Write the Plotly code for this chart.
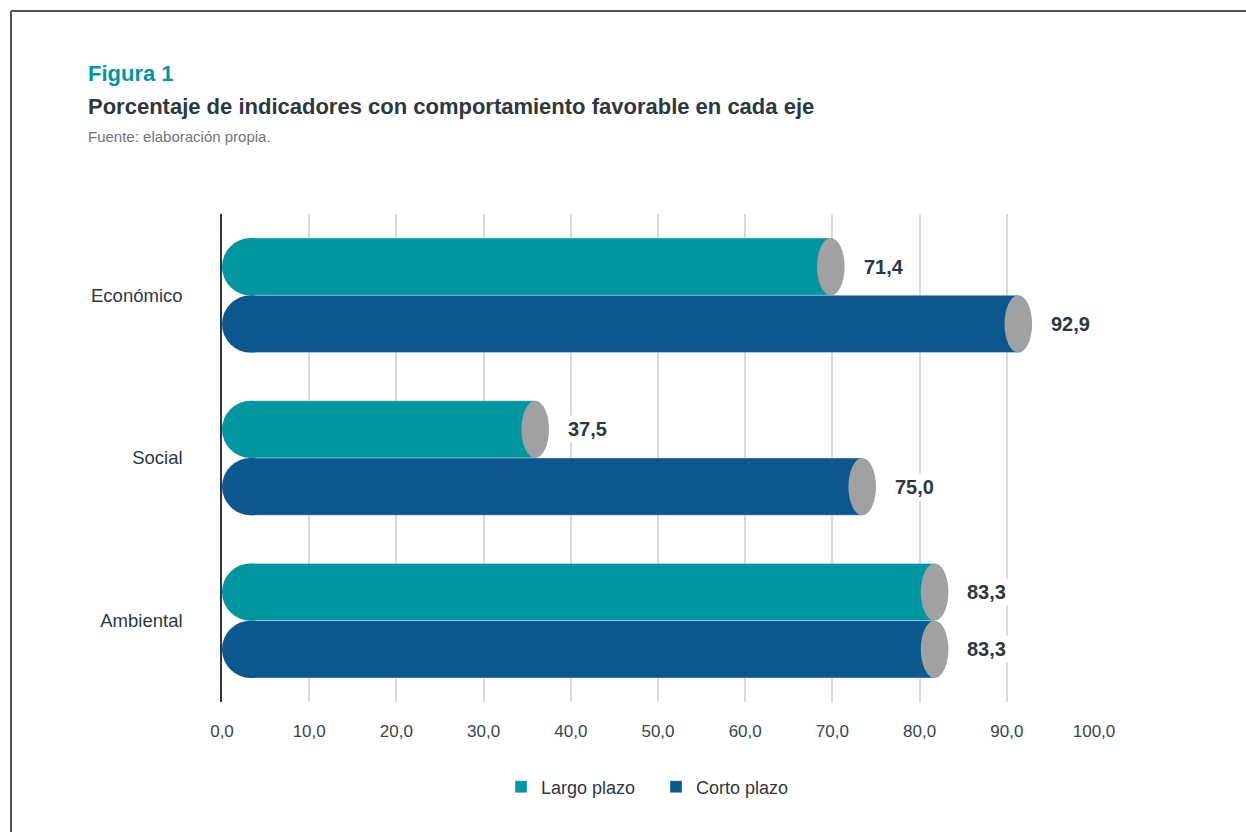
import plotly.graph_objects as go

categories = ["Económico", "Social", "Ambiental"]
largo_plazo = [71.4, 37.5, 83.3]
corto_plazo = [92.9, 75.0, 83.3]
series_names = ["Largo plazo", "Corto plazo"]
x_ticks = [0, 10, 20, 30, 40, 50, 60, 70, 80, 90, 100]
x_tick_labels = ["0,0", "10,0", "20,0", "30,0", "40,0", "50,0", "60,0", "70,0", "80,0", "90,0", "100,0"]

TEAL = "#0096a0"
BLUE = "#0b588f"
GREY = "#a0a1a3"
DARK = "#2d383e"
FONT = "Liberation Sans, Arial, Helvetica, sans-serif"

# geometry / layout constants (pixels)
W, H = 1246, 832
L, R, T, B = 222, 152, 214, 130
plot_w = W - L - R
plot_h = H - T - B
x_min, x_max = 0, 100
px_per_x = plot_w / (x_max - x_min)
bar_h = 0.352
half = bar_h / 2
left_rx = (bar_h * plot_h / 3 / 2) / px_per_x   # rounded left end, circular in pixels
right_rx = 13.8 / px_per_x                          # grey end cap half-width

def fmt(v):
    return f"{v:.1f}".replace(".", ",")

fig = go.Figure()
shapes = []
annotations = []

for s_idx, (name, vals, color) in enumerate(zip(series_names, [largo_plazo, corto_plazo], [TEAL, BLUE])):
    offset = -half if s_idx == 0 else half
    ys = [i + offset for i in range(len(categories))]
    fig.add_trace(go.Bar(
        name=name,
        orientation="h",
        y=ys,
        x=[v - right_rx - left_rx for v in vals],
        base=[left_rx] * len(vals),
        width=bar_h,
        marker=dict(color=color, line=dict(width=0.6, color="rgba(255,255,255,0.6)")),
        hoverinfo="skip",
    ))
    for y, v in zip(ys, vals):
        # rounded left end
        shapes.append(dict(type="circle", xref="x", yref="y",
                           x0=0, x1=2 * left_rx, y0=y - half, y1=y + half,
                           fillcolor=color, line=dict(width=0), layer="above"))
        # grey cylinder cap at the value end
        shapes.append(dict(type="circle", xref="x", yref="y",
                           x0=v - 2 * right_rx, x1=v, y0=y - half, y1=y + half,
                           fillcolor=GREY, line=dict(width=0), layer="above"))
        annotations.append(dict(xref="x", yref="y", x=v, y=y, text=fmt(v),
                                showarrow=False, xanchor="left", yanchor="middle",
                                xshift=16, bgcolor="white", borderpad=2,
                                font=dict(family=FONT, size=20, color=DARK, weight="bold")))

def px_to_paper_x(px):
    return (px - L) / plot_w

def px_to_paper_y(py):
    return (H - B - py) / plot_h

# frame lines (top and left)
shapes.append(dict(type="line", xref="paper", yref="paper",
                   x0=px_to_paper_x(11), x1=px_to_paper_x(W + 5),
                   y0=px_to_paper_y(11), y1=px_to_paper_y(11),
                   line=dict(color="#4a5257", width=2)))
shapes.append(dict(type="line", xref="paper", yref="paper",
                   x0=px_to_paper_x(11), x1=px_to_paper_x(11),
                   y0=px_to_paper_y(11), y1=px_to_paper_y(H + 5),
                   line=dict(color="#4a5257", width=2)))

# titles
annotations.append(dict(xref="paper", yref="paper", x=px_to_paper_x(86), y=px_to_paper_y(73),
                        xanchor="left", yanchor="middle", showarrow=False, text="Figura 1",
                        font=dict(family=FONT, size=22, color="#0096a0", weight="bold")))
annotations.append(dict(xref="paper", yref="paper", x=px_to_paper_x(86), y=px_to_paper_y(106),
                        xanchor="left", yanchor="middle", showarrow=False,
                        text="Porcentaje de indicadores con comportamiento favorable en cada eje",
                        font=dict(family=FONT, size=22, color=DARK, weight="bold")))
annotations.append(dict(xref="paper", yref="paper", x=px_to_paper_x(86), y=px_to_paper_y(136),
                        xanchor="left", yanchor="middle", showarrow=False,
                        text="Fuente: elaboración propia.",
                        font=dict(family=FONT, size=15, color="#6f7477")))

fig.update_layout(
    width=W, height=H,
    margin=dict(l=L, r=R, t=T, b=B),
    paper_bgcolor="white", plot_bgcolor="white",
    barmode="overlay",
    showlegend=True,
    legend=dict(orientation="h", x=px_to_paper_x(656), xanchor="center",
                y=px_to_paper_y(787), yanchor="middle",
                entrywidth=110, entrywidthmode="pixels",
                font=dict(family=FONT, size=18, color=DARK),
                traceorder="normal", itemclick=False, itemdoubleclick=False),
    shapes=shapes,
    annotations=annotations,
    font=dict(family=FONT, color=DARK),
)

fig.update_xaxes(range=[x_min, x_max], tickvals=x_ticks, ticktext=x_tick_labels,
                 showgrid=True, gridcolor="#d9d9d9", gridwidth=1.5, zeroline=False,
                 showline=False, ticks="", ticklabelstandoff=17,
                 tickfont=dict(family=FONT, size=17, color="#3a4449"), fixedrange=True)
fig.update_yaxes(range=[2.5, -0.5], tickvals=list(range(len(categories))), ticktext=categories,
                 showgrid=False, zeroline=False, showline=True, linecolor="#2d383e", linewidth=1.5,
                 ticks="", ticklabelstandoff=34,
                 tickfont=dict(family=FONT, size=18.5, color=DARK), fixedrange=True)

fig.write_html("out.html", post_script="document.body.style.margin='0';",
               config={"displayModeBar": False})
